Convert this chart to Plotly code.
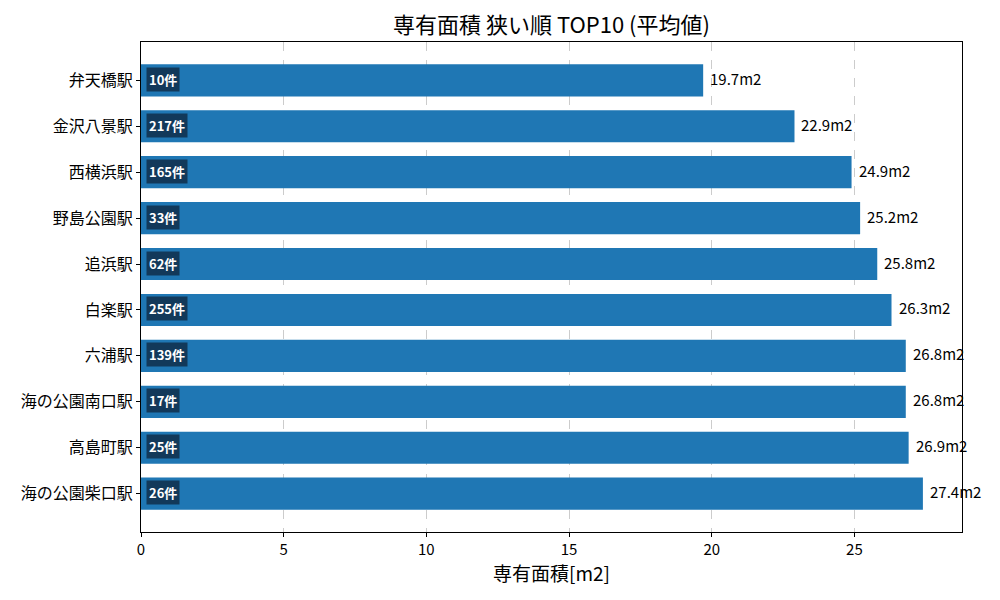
import plotly.graph_objects as go

# data
stations = ['弁天橋駅', '金沢八景駅', '西横浜駅', '野島公園駅', '追浜駅',
            '白楽駅', '六浦駅', '海の公園南口駅', '高島町駅', '海の公園柴口駅']
area = [19.7, 22.9, 24.9, 25.2, 25.8, 26.3, 26.8, 26.8, 26.9, 27.4]
counts = [10, 217, 165, 33, 62, 255, 139, 17, 25, 26]

font = 'Noto Sans CJK JP'

fig = go.Figure(go.Bar(
    x=area, y=stations, orientation='h', width=0.7,
    marker=dict(color='#1f77b4', line=dict(width=0)),
))

# value labels and count badges
for s, a, c in zip(stations, area, counts):
    fig.add_annotation(x=a, y=s, text=f'{a:.1f}m2', showarrow=False,
                       xanchor='left', xshift=5, yshift=2,
                       font=dict(family=font, size=15, color='black'))
    fig.add_annotation(x=0, y=s, text=f'<b>{c}件</b>', showarrow=False,
                       xanchor='left', xshift=5, yshift=1,
                       bgcolor='rgba(17,52,82,0.92)', borderpad=2,
                       font=dict(family=font, size=13, color='white'))

fig.update_layout(
    width=1000, height=600,
    margin=dict(l=133, r=46, t=34, b=76),
    plot_bgcolor='white', paper_bgcolor='white',
    showlegend=False,
    font=dict(family=font, size=15, color='black'),
    title=dict(text='専有面積 狭い順 TOP10 (平均値)', x=0.5, xref='paper',
               xanchor='center', y=0.972, yanchor='middle',
               font=dict(family=font, size=22)),
)
fig.update_xaxes(
    range=[0, 27.4 * 1.05], tickvals=[0, 5, 10, 15, 20, 25],
    showgrid=True, gridcolor='#cccccc', griddash='dash', gridwidth=1,
    zeroline=False, showline=True, linecolor='black', linewidth=1, mirror=True,
    ticks='outside', ticklen=4, tickcolor='black',
    title=dict(text='専有面積[m2]', font=dict(family=font, size=19), standoff=6),
)
fig.update_yaxes(
    autorange=False, range=[9.835, -0.835], categoryorder='array',
    categoryarray=stations, showgrid=False, zeroline=False,
    showline=True, linecolor='black', linewidth=1, mirror=True,
    ticks='outside', ticklen=4, tickcolor='black',
    tickfont=dict(family=font, size=16),
)

fig.write_html('out.html')
